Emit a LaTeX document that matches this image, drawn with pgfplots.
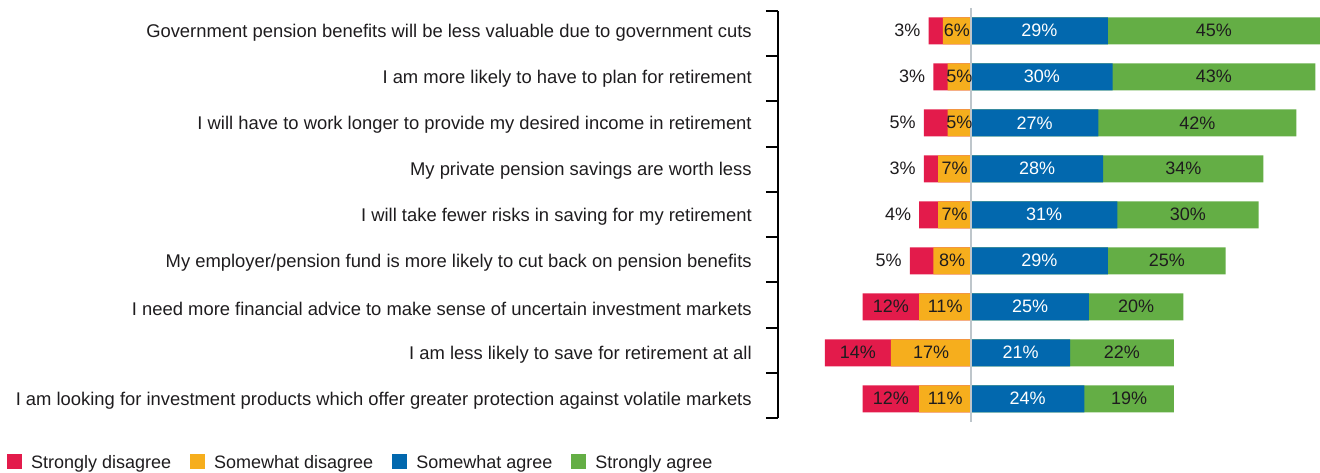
\documentclass[border=0pt]{standalone}
\usepackage{pgfplots}
\pgfplotsset{compat=1.18}
\usepackage{pgfplotstable}
\usepackage{fontspec}
\setmainfont{Liberation Sans}

\definecolor{sdred}{RGB}{227,27,75}
\definecolor{swdorange}{RGB}{246,174,29}
\definecolor{swablue}{RGB}{2,104,174}
\definecolor{stagreen}{RGB}{100,174,69}
\definecolor{zerogray}{RGB}{190,198,203}
\definecolor{textdark}{RGB}{30,28,30}
\newcommand\lab{\fontsize{18.4}{21}\selectfont}
\newcommand\vlab{\fontsize{18}{21}\selectfont}

\pgfplotstableread{
idx sd swd swa sta
0 3 6 29 45
1 3 5 30 43
2 5 5 27 42
3 3 7 28 34
4 4 7 31 30
5 5 8 29 25
6 12 11 25 20
7 14 17 21 22
8 12 11 24 19
}\datatable

\pgfplotsset{
  mybar/.style={xbar, bar shift=0pt, bar width=27pt, draw=none, forget plot},
  lbl/.style={forget plot, draw=none, mark=none,
    nodes near coords={\pgfmathprintnumber{\pgfplotspointmeta}\%},
    point meta=explicit,
    every node near coord/.style={anchor=center, font=\vlab, text=textdark, inner sep=0pt}},
}

\begin{document}
\begin{tikzpicture}
\begin{axis}[
  name=ax,
  scale only axis,
  width=542.2pt, height=407pt,
  xmin=-40.98, xmax=74,
  ymin=-0.43, ymax=8.417,
  y dir=reverse,
  enlargelimits=false,
  clip=false,
  /pgf/number format/assume math mode=true,
  axis x line=none,
  axis y line*=left,
  y axis line style={line width=2pt, black},
  ytick={0,...,8},
  yticklabels={
    {Government pension benefits will be less valuable due to government cuts},
    {I am more likely to have to plan for retirement},
    {I will have to work longer to provide my desired income in retirement},
    {My private pension savings are worth less},
    {I will take fewer risks in saving for my retirement},
    {My employer/pension fund is more likely to cut back on pension benefits},
    {I need more financial advice to make sense of uncertain investment markets},
    {I am less likely to save for retirement at all},
    {I am looking for investment products which offer greater protection against volatile markets}},
  major tick length=0pt,
  minor ytick={-0.43,0.553,1.536,2.519,3.502,4.485,5.468,6.451,7.434,8.417},
  minor tick length=12pt,
  tick align=outside,
  minor tick style={line width=2pt, black},
  yticklabel style={font=\lab, text=textdark, inner sep=0pt, xshift=-26pt, yshift=-2pt},
  legend columns=4,
  legend image code/.code={\fill[#1, draw=none] (0pt,-6pt) rectangle (15pt,9pt);},
  legend style={at={(-1.422,-0.109)}, anchor=west, draw=none, fill=none,
    inner sep=0pt, font=\vlab, text=textdark, nodes={inner sep=0pt},
    /tikz/every odd column/.append style={column sep=9pt},
    /tikz/every even column/.append style={column sep=19pt}},
]
\addlegendimage{fill=sdred}\addlegendentry{Strongly disagree}
\addlegendimage{fill=swdorange}\addlegendentry{Somewhat disagree}
\addlegendimage{fill=swablue}\addlegendentry{Somewhat agree}
\addlegendimage{fill=stagreen}\addlegendentry{Strongly agree}

\addplot[mybar, fill=stagreen] table[x expr=\thisrow{swa}+\thisrow{sta}, y=idx]{\datatable};
\addplot[mybar, fill=swablue] table[x=swa, y=idx]{\datatable};
\addplot[mybar, fill=sdred] table[x expr=-\thisrow{sd}-\thisrow{swd}, y=idx]{\datatable};
\addplot[mybar, fill=swdorange] table[x expr=-\thisrow{swd}, y=idx]{\datatable};

\addplot[forget plot, no marks, line width=2.5pt, zerogray] coordinates {(0,-0.5) (0,8.5)};

% labels
\addplot[lbl, restrict expr to domain={\thisrow{sd}}{10:100}]
  table[x expr=-\thisrow{swd}-\thisrow{sd}/2, y=idx, meta=sd]{\datatable};
\addplot[lbl, restrict expr to domain={\thisrow{sd}}{0:9.9},
  every node near coord/.append style={anchor=east, xshift=-8pt}]
  table[x expr=-\thisrow{swd}-\thisrow{sd}, y=idx, meta=sd]{\datatable};
\addplot[lbl] table[x expr=-\thisrow{swd}/2, y=idx, meta=swd]{\datatable};
\addplot[lbl, every node near coord/.append style={text=white}]
  table[x expr=\thisrow{swa}/2, y=idx, meta=swa]{\datatable};
\addplot[lbl] table[x expr=\thisrow{swa}+\thisrow{sta}/2, y=idx, meta=sta]{\datatable};
\end{axis}
\pgfresetboundingbox
\path[use as bounding box] ([shift={(-778pt,-55pt)}]ax.south west) rectangle ([shift={(0pt,11pt)}]ax.north east);
\end{tikzpicture}
\end{document}
